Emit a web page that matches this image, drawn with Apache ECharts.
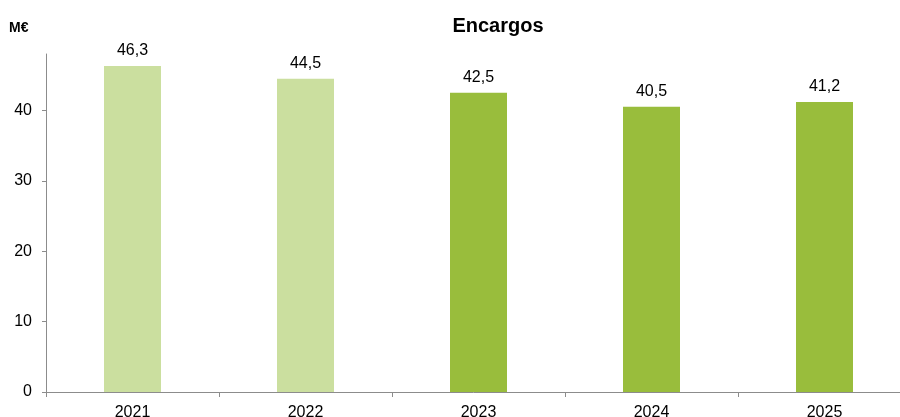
<!DOCTYPE html>
<html>
<head>
<meta charset="utf-8">
<script src="https://cdn.jsdelivr.net/npm/echarts@6/dist/echarts.min.js"></script>
<style>
  html, body { margin: 0; padding: 0; background: #fff; }
  #chart { width: 900px; height: 417px; }
</style>
</head>
<body>
<div id="chart"></div>
<script>
// Encargos por ano (M€)
const years = ['2021', '2022', '2023', '2024', '2025'];
const encargos = [46.3, 44.5, 42.5, 40.5, 41.2];
const barColors = ['#cbdf9f', '#cbdf9f', '#99bd3c', '#99bd3c', '#99bd3c'];
const yTicks = [0, 10, 20, 30, 40];

const font = 'Arial, "Liberation Sans", sans-serif';
const chart = echarts.init(document.getElementById('chart'), null, { renderer: 'canvas' });

chart.setOption({
  animation: false,
  backgroundColor: '#ffffff',
  title: {
    text: 'Encargos',
    left: 493,
    top: 11,
    textAlign: 'center',
    textStyle: { fontFamily: font, fontSize: 20, fontWeight: 'bold', color: '#000' }
  },
  graphic: [{
    type: 'text',
    left: 9,
    top: 21,
    style: { text: 'M€', font: 'bold 14px ' + font, fill: '#000' }
  }],
  // the plot area runs a little past the right edge of the canvas
  grid: { left: 46, right: -11, top: 54, bottom: 25, containLabel: false, outerBoundsMode: 'none' },
  xAxis: {
    type: 'category',
    data: years,
    axisLine: { lineStyle: { color: '#8c8c8c', width: 1 } },
    axisTick: { show: true, length: 5, lineStyle: { color: '#8c8c8c' } },
    axisLabel: { fontFamily: font, fontSize: 16, color: '#000', margin: 13 }
  },
  yAxis: {
    type: 'value',
    min: 0,
    max: 48,
    interval: 10,
    splitLine: { show: false },
    axisLine: { show: true, lineStyle: { color: '#8c8c8c', width: 1 } },
    axisTick: { show: true, length: 4, customValues: yTicks, lineStyle: { color: '#8c8c8c' } },
    axisLabel: { fontFamily: font, fontSize: 16, color: '#000', margin: 14, customValues: yTicks }
  },
  series: [{
    type: 'bar',
    barWidth: 57,
    data: encargos.map((v, i) => ({ value: v, itemStyle: { color: barColors[i] } })),
    label: {
      show: true,
      position: 'top',
      distance: 7,
      fontFamily: font,
      fontSize: 16,
      color: '#000',
      formatter: p => p.value.toFixed(1).replace('.', ',')
    }
  }]
});
</script>
</body>
</html>
